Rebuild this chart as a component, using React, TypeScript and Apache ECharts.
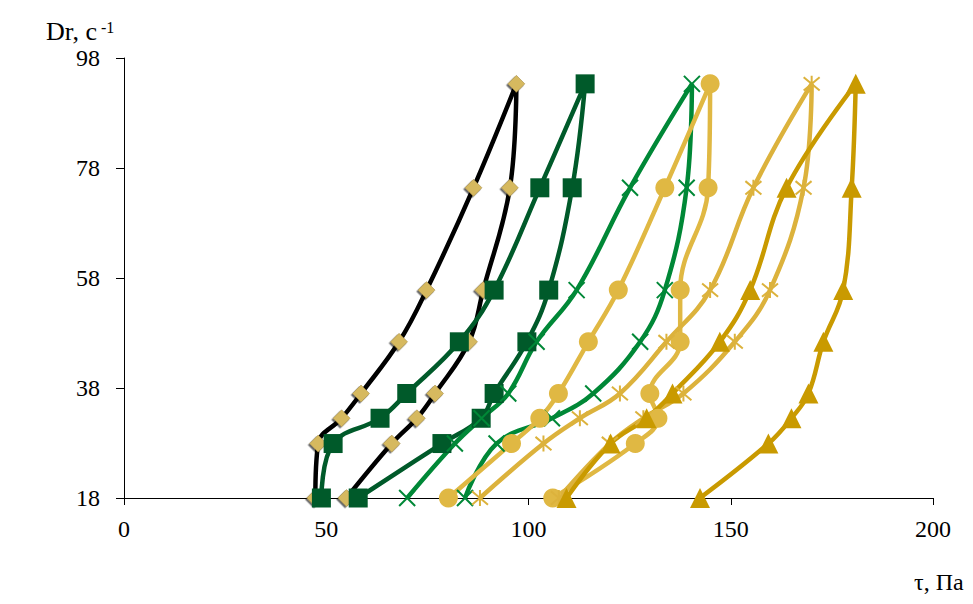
import React, { useEffect, useRef } from "react";
import * as echarts from "echarts";

// Shear rates Dr, s^-1 (y values), shared by every loop
const shearRates = [18, 27.9, 32.5, 37, 46.4, 55.8, 74.4, 93.3];

// Each loop: "up" branch (8 points, Dr ascending), "down" branch (7 points, Dr descending from 74.4 to 18)
const blackUp = [47.3, 48.0, 53.8, 58.6, 68.0, 74.8, 86.4, 97.0];
const blackDown = [95.4, 88.8, 85.3, 76.9, 72.4, 66.2, 55.0];

const darkGreenUp = [48.8, 51.7, 63.3, 69.9, 82.9, 91.5, 102.8, 114.0];
const darkGreenDown = [110.8, 105.0, 99.6, 91.5, 88.3, 78.6, 57.9];

const greenUp = [70.0, 81.8, 88.4, 95.0, 102.0, 111.9, 125.1, 140.4];
const greenDown = [139.1, 133.7, 127.6, 116.0, 105.8, 92.1, 84.3];

const circleUp = [80.2, 95.8, 102.8, 107.4, 114.8, 122.2, 133.7, 144.9];
const circleDown = [144.4, 137.5, 137.5, 130.0, 132.0, 126.4, 106.0];

const starUp = [88.0, 103.7, 112.7, 122.6, 134.1, 144.9, 155.6, 170.0];
const starDown = [168.0, 159.7, 151.0, 138.3, 128.4, 120.1, 107.5];

const triUp = [109.4, 120.3, 129.2, 135.6, 147.3, 154.8, 163.8, 180.9];
const triDown = [179.9, 177.8, 172.9, 169.2, 165.0, 159.3, 142.4];

const xTicks = { min: 0, max: 200, interval: 50 };
const yTicks = { min: 18, max: 98, interval: 20 };

function loop(up: number[], down: number[]) {
  const pts: number[][] = up.map((x, i) => [x, shearRates[i]]);
  down.forEach((x, i) => pts.push([x, shearRates[6 - i]]));
  return pts;
}

const FONT = "'Liberation Serif', 'Times New Roman', serif";

export default function App() {
  const ref = useRef<HTMLDivElement>(null);
  useEffect(() => {
    if (!ref.current) return;
    const chart = echarts.init(ref.current, null, { renderer: "svg" });
    const xPath = "path://M0,0L10,10M10,0L0,10";
    const starPath = "path://M0,0L10,10M10,0L0,10M5,-1L5,11";
    const base = {
      type: "line",
      smooth: 0.4,
      animation: false,
      emphasis: { disabled: true },
      z: 2,
    };
    const mk = (
      data: number[][],
      color: string,
      symbol: string,
      symbolSize: number | number[],
      itemStyle: any
    ) => ({
      ...base,
      data,
      symbol,
      symbolSize,
      showAllSymbol: true,
      lineStyle: { color, width: 4.5 },
      itemStyle,
    });
    chart.setOption({
      animation: false,
      grid: { left: 124, right: 40, top: 58, bottom: 106 },
      xAxis: {
        type: "value",
        min: xTicks.min,
        max: xTicks.max,
        interval: xTicks.interval,
        axisLine: { show: true, lineStyle: { color: "#000", width: 1 } },
        axisTick: { show: true, inside: false, length: 7, lineStyle: { color: "#000" } },
        splitLine: { show: false },
        axisLabel: { color: "#000", fontFamily: FONT, fontSize: 24, margin: 19 },
      },
      yAxis: {
        type: "value",
        min: yTicks.min,
        max: yTicks.max,
        interval: yTicks.interval,
        axisLine: { show: true, lineStyle: { color: "#000", width: 1 } },
        axisTick: { show: true, inside: false, length: 8, lineStyle: { color: "#000" } },
        splitLine: { show: false },
        axisLabel: { color: "#000", fontFamily: FONT, fontSize: 24, margin: 24 },
      },
      graphic: [
        {
          type: "text",
          style: { text: "Dr, c", x: 46, y: 31, verticalAlign: "middle", font: `26px ${FONT}`, fill: "#000" },
        },
        {
          type: "text",
          style: { text: "-1", x: 101, y: 27, verticalAlign: "middle", font: `16px ${FONT}`, fill: "#000" },
        },
        {
          type: "text",
          style: { text: "τ, Па", x: 914, y: 582, verticalAlign: "middle", font: `24px ${FONT}`, fill: "#000" },
        },
      ],
      series: [
        mk(loop(blackUp, blackDown), "#000000", "diamond", 17, {
          color: "#d6b95e",
          borderColor: "#9c8446",
          borderWidth: 0.5,
          shadowColor: "rgba(0,0,0,0.6)",
          shadowBlur: 1,
          shadowOffsetX: -1.5,
          shadowOffsetY: 1.5,
        }),
        mk(loop(darkGreenUp, darkGreenDown), "#005a2a", "rect", 19, { color: "#005a2a" }),
        mk(loop(greenUp, greenDown), "#008837", xPath, 16, {
          color: "none",
          borderColor: "#008837",
          borderWidth: 2,
        }),
        mk(loop(circleUp, circleDown), "#e0b843", "circle", 19, { color: "#e0b843" }),
        mk(loop(starUp, starDown), "#dcb23c", starPath, 16, {
          color: "none",
          borderColor: "#dcb23c",
          borderWidth: 2,
        }),
        mk(loop(triUp, triDown), "#c99a00", "triangle", 20, { color: "#c99a00" }),
      ],
    });
    return () => chart.dispose();
  }, []);
  return <div ref={ref} style={{ width: 973, height: 604, position: "absolute", left: 0, top: 0 }} />;
}
